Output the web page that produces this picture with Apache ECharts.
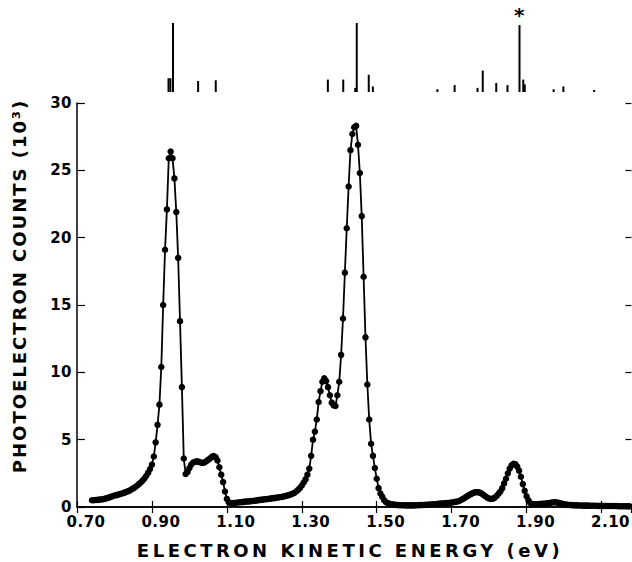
<!DOCTYPE html>
<html><head><meta charset="utf-8">
<script src="https://cdn.jsdelivr.net/npm/echarts@6/dist/echarts.min.js"></script>
<style>html,body{margin:0;padding:0;background:#fff}#c{width:632px;height:562px}</style>
</head><body><div id="c"></div>
<script>
// photoelectron spectrum: counts (10^3) on a uniform energy grid
const energyStart = 0.740;   // eV, first channel
const energyStep = 0.005;    // eV per channel
const counts = [
  0.50,0.50,0.52,0.53,0.55,0.56,0.58,0.62,0.66,0.70,0.75,0.80,0.85,0.88,0.92,0.96,1.00,1.05,1.10,1.16,
  1.22,1.30,1.38,1.48,1.58,1.70,1.82,1.96,2.12,2.32,2.55,2.82,3.15,3.75,4.8,6.1,7.6,10.4,15.0,19.1,
  22.1,25.9,26.4,25.9,24.4,21.9,18.5,13.8,8.9,3.6,2.45,2.6,2.9,3.15,3.3,3.35,3.4,3.35,3.3,3.28,
  3.3,3.4,3.5,3.6,3.72,3.78,3.7,3.45,2.95,2.4,1.85,1.15,0.6,0.35,0.3,0.3,0.3,0.32,0.33,0.35,
  0.36,0.38,0.40,0.41,0.42,0.44,0.45,0.47,0.49,0.51,0.53,0.55,0.57,0.58,0.60,0.62,0.64,0.66,0.68,0.70,
  0.72,0.74,0.77,0.80,0.84,0.88,0.92,0.98,1.05,1.15,1.27,1.42,1.60,1.82,2.05,2.4,2.85,3.8,5.0,5.6,
  6.5,7.8,8.6,9.3,9.55,9.35,8.9,8.3,7.75,7.55,7.5,8.3,9.3,11.3,14.0,17.4,20.7,23.8,26.5,27.7,
  28.2,28.3,26.9,24.8,21.6,17.1,12.6,9.1,6.5,4.7,3.8,2.9,2.1,1.4,1.0,0.75,0.5,0.35,0.28,0.24,
  0.20,0.18,0.16,0.15,0.14,0.13,0.13,0.12,0.12,0.12,0.12,0.12,0.12,0.13,0.13,0.14,0.15,0.15,0.16,0.17,
  0.18,0.19,0.20,0.21,0.22,0.23,0.25,0.26,0.28,0.29,0.30,0.31,0.33,0.35,0.38,0.41,0.45,0.52,0.60,0.68,
  0.77,0.86,0.94,1.01,1.07,1.10,1.10,1.07,1.00,0.90,0.80,0.70,0.63,0.60,0.62,0.70,0.82,0.98,1.15,1.40,
  1.75,2.10,2.50,2.85,3.10,3.20,3.18,3.00,2.70,2.25,1.70,1.20,0.80,0.50,0.30,0.22,0.20,0.20,0.21,0.22,
  0.23,0.24,0.25,0.27,0.30,0.32,0.34,0.35,0.34,0.31,0.27,0.23,0.20,0.18,0.16,0.15,0.14,0.13,0.12,0.12,
  0.11,0.11,0.10,0.10,0.10,0.10,0.09,0.09,0.09,0.09,0.08,0.08,0.08,0.08,0.08,0.07,0.07,0.07,0.07,0.07,
  0.07,0.06,0.06,0.06,0.06,0.06,0.05,0.05
];
// stick spectrum above the plot (relative intensities)
const stickEnergies = [0.944,0.949,0.956,1.023,1.070,1.369,1.410,1.442,1.446,1.478,1.489,1.661,1.707,1.768,1.782,1.818,1.848,1.880,1.890,1.894,1.971,1.997,2.079];
const stickHeights  = [20,20,100,16,17,18,18,6,100,25,8,4,10,6,31,13,10,97,18,11,4,8,3];
const starredStick = 1.880;
// axis ticks and titles
const xTickLabels = ['0.70','0.90','1.10','1.30','1.50','1.70','1.90','2.10'];
const yTickLabels = ['0','5','10','15','20','25','30'];
const xTitle = 'ELECTRON KINETIC ENERGY (eV)';
const yTitle = 'PHOTOELECTRON COUNTS (10³)';
const xMin = 0.70, xMax = 2.18, xStep = 0.20;
const yMin = 0, yMax = 30, yStep = 5;

const lineData = counts.map((v, i) => [+(energyStart + i * energyStep).toFixed(3), v]);
const stickData = stickEnergies.map((e, i) => {
  const item = { value: [e, stickHeights[i]] };
  if (e === starredStick) {
    item.label = { show: true, position: 'top', formatter: '*', distance: 0,
      fontSize: 20, fontWeight: 'bold', color: '#000', fontFamily: 'DejaVu Sans' };
  }
  return item;
});

const FONT = 'DejaVu Sans';
const chart = echarts.init(document.getElementById('c'), null, { renderer: 'svg' });
chart.setOption({
  animation: false,
  backgroundColor: '#fff',
  grid: [
    { left: 77, right: 0, top: 103, bottom: 55 },
    { left: 77, right: 0, top: 23, bottom: 470 }
  ],
  xAxis: [
    { gridIndex: 0, type: 'value', position: 'bottom', min: xMin, max: xMax, interval: xStep,
      axisLine: { show: true, lineStyle: { color: '#000', width: 1.5 } },
      axisTick: { show: true, inside: true, length: 6, lineStyle: { color: '#000', width: 1.2 } },
      splitLine: { show: false },
      axisLabel: { show: true, color: '#000', fontSize: 15, fontWeight: 'bold', fontFamily: FONT, margin: 7,
        padding: [0, 0, 0, 18], showMaxLabel: false, showMinLabel: true,
        formatter: v => { const k = Math.round((v - xMin) / xStep); return xTickLabels[k] || ''; } } },
    { gridIndex: 0, type: 'value', position: 'top', min: xMin, max: xMax, interval: xStep,
      axisLine: { show: true, lineStyle: { color: '#000', width: 1.5 } },
      axisTick: { show: true, inside: true, length: 6, lineStyle: { color: '#000', width: 1.2 } },
      splitLine: { show: false }, axisLabel: { show: false } },
    { gridIndex: 1, type: 'value', min: xMin, max: xMax, show: false }
  ],
  yAxis: [
    { gridIndex: 0, type: 'value', position: 'left', min: yMin, max: yMax, interval: yStep,
      axisLine: { show: true, lineStyle: { color: '#000', width: 1.5 } },
      axisTick: { show: true, inside: true, length: 8, lineStyle: { color: '#000', width: 1.2 } },
      splitLine: { show: false },
      axisLabel: { color: '#000', fontSize: 15, fontWeight: 'bold', fontFamily: FONT, margin: 5, lineHeight: 12,
        formatter: v => yTickLabels[Math.round((v - yMin) / yStep)] || '' } },
    { gridIndex: 0, type: 'value', position: 'right', min: yMin, max: yMax, interval: yStep,
      axisLine: { show: false },
      axisTick: { show: true, inside: true, length: 6, lineStyle: { color: '#000', width: 1.2 } },
      splitLine: { show: false }, axisLabel: { show: false } },
    { gridIndex: 1, type: 'value', min: 0, max: 100, show: false }
  ],
  graphic: [
    { type: 'text', x: 350, y: 550,
      style: { text: xTitle, fill: '#000', fontSize: 18, fontWeight: 'bold', fontFamily: FONT,
        align: 'center', verticalAlign: 'middle' } },
    { type: 'text', x: 19, y: 286, rotation: Math.PI / 2,
      style: { text: yTitle, fill: '#000', fontSize: 18, fontWeight: 'bold', fontFamily: FONT,
        align: 'center', verticalAlign: 'middle' } }
  ],
  series: [
    { type: 'line', xAxisIndex: 0, yAxisIndex: 0, data: lineData,
      symbol: 'circle', symbolSize: 6.5, showSymbol: true, showAllSymbol: true,
      lineStyle: { color: '#000', width: 1.8 }, itemStyle: { color: '#000' }, z: 3 },
    { type: 'bar', xAxisIndex: 2, yAxisIndex: 2, data: stickData, barWidth: 2,
      itemStyle: { color: '#000' } }
  ]
});

// wide letter spacing of the original typeset titles
function spaceTitles() {
  document.querySelectorAll('#c text').forEach(t => {
    if (t.textContent === xTitle) t.style.letterSpacing = '3.5px';
    else if (t.textContent === yTitle) t.style.letterSpacing = '2px';
    else t.style.letterSpacing = '0.5px';
  });
}
spaceTitles();
chart.on('finished', spaceTitles);
</script>
</body></html>
